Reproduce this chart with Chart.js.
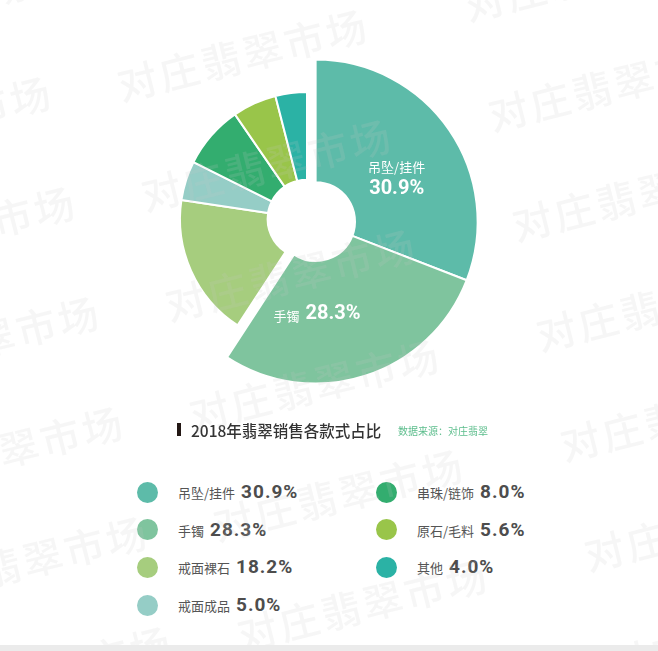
<!DOCTYPE html>
<html>
<head>
<meta charset="utf-8">
<script src="https://cdn.jsdelivr.net/npm/chart.js@4.4.1/dist/chart.umd.min.js"></script>
<style>
    body { margin: 0; background: #fff; }
    #page { position: relative; width: 658px; height: 651px; overflow: hidden; background: #fff; font-family: "Noto Sans CJK SC", sans-serif; }
    #chartBox { position: absolute; left: 0; top: 0; width: 614px; height: 438px; }
    .title-bar { position: absolute; left: 177px; top: 423px; width: 4px; height: 13px; background: #231815; }
    .title { position: absolute; left: 191px; top: 419px; font-size: 15.5px; line-height: 22px; color: #333; font-weight: 500; white-space: nowrap; }
    .source { position: absolute; left: 398px; top: 424px; font-size: 10px; line-height: 14px; color: #5cbd8c; white-space: nowrap; }
    .dot { position: absolute; width: 21px; height: 21px; border-radius: 50%; }
    .item { position: absolute; display: flex; align-items: baseline; line-height: 26px; white-space: nowrap; }
    .item .name { font-size: 13px; color: #555; margin-right: 6px; }
    .item .val { font-family: Roboto, sans-serif; font-weight: 700; font-size: 19px; letter-spacing: 1px; color: #4d4d4d; }
    .wm { position: absolute; font-size: 40px; line-height: 48px; font-weight: 500; letter-spacing: 3px; color: rgba(200, 200, 200, 0.16); white-space: nowrap; transform-origin: 20px 50%; transform: rotate(-14deg); pointer-events: none; }
    .strip { position: absolute; left: 0; top: 645px; width: 658px; height: 6px; background: #ebebeb; }
</style>
</head>
<body>
<div id="page">
    <div id="chartBox"><canvas id="pieChart"></canvas></div>
    <div class="title-bar"></div>
    <div class="title">2018年翡翠销售各款式占比</div>
    <div class="source">数据来源：对庄翡翠</div>
    <div id="legend"></div>
    <div id="marks"></div>
    <div class="strip"></div>
</div>
<script>
// 2018 jade sales by style (%)
const categories = ['吊坠/挂件', '手镯', '戒面裸石', '戒面成品', '串珠/链饰', '原石/毛料', '其他']
const shares = [30.9, 28.3, 18.2, 5.0, 8.0, 5.6, 4.0]
const colors = ['#5dbba9', '#7fc49e', '#a6cd7e', '#95cdc6', '#33ad6f', '#99c54a', '#2bb2a5']

const bigShare = 20      // slices above this are pulled out together and enlarged
const bigScale = 162 / 127
const pullOut = 9
const labelTurn = [6, 17]  // degrees, nudges label along the slice

const explode = {
    id: 'explode',
    afterDatasetUpdate(chart, args) {
        const arcs = args.meta.data
        const big = arcs.filter((a, i) => shares[i] >= bigShare)
        if (!big.length) return
        const start = Math.min(...big.map(a => a.startAngle))
        const end = Math.max(...big.map(a => a.endAngle))
        const mid = (start + end) / 2
        big.forEach(arc => {
            arc.outerRadius = arc.outerRadius * bigScale
            arc.x = arc.x + Math.cos(mid) * pullOut
            arc.y = arc.y + Math.sin(mid) * pullOut
        })
    }
}

const sliceLabels = {
    id: 'sliceLabels',
    afterDatasetsDraw(chart) {
        const c = chart.ctx
        const arcs = chart.getDatasetMeta(0).data
        c.save()
        c.fillStyle = '#fff'
        c.textBaseline = 'middle'
        arcs.forEach((arc, i) => {
            if (shares[i] < bigShare) return
            const mid = (arc.startAngle + arc.endAngle) / 2 + (labelTurn[i] || 0) * Math.PI / 180
            const dist = arc.innerRadius + (arc.outerRadius - arc.innerRadius) * 0.43
            const x = arc.x + Math.cos(mid) * dist
            const y = arc.y + Math.sin(mid) * dist
            const nameFont = '13px "Noto Sans CJK SC"'
            const valFont = 'bold 20px Roboto'
            const val = shares[i].toFixed(1) + '%'
            if (i === 0) {
                c.textAlign = 'center'
                c.font = nameFont
                c.fillText(categories[i], x, y - 11)
                c.font = valFont
                c.fillText(val, x, y + 11)
            } else {
                c.font = nameFont
                const nw = c.measureText(categories[i]).width
                c.font = valFont
                const vw = c.measureText(val).width
                const left = x - (nw + 6 + vw) / 2
                c.textAlign = 'left'
                c.font = nameFont
                c.fillText(categories[i], left, y + 2)
                c.font = valFont
                c.fillText(val, left + nw + 6, y)
            }
        })
        c.restore()
    }
}

const ctx = document.getElementById('pieChart').getContext('2d')
const pieChart = new Chart(ctx, {
    type: 'doughnut',
    data: {
        labels: categories,
        datasets: [{
            data: shares,
            backgroundColor: colors,
            borderColor: '#fff',
            borderWidth: 2
        }]
    },
    options: {
        responsive: true,
        maintainAspectRatio: false,
        animation: false,
        radius: 127,
        cutout: '31%',
        layout: { padding: 0 },
        plugins: {
            legend: { display: false },
            tooltip: { enabled: false }
        }
    },
    plugins: [explode, sliceLabels]
})

// legend, two columns
const legend = document.getElementById('legend')
categories.forEach((name, i) => {
    const col = i < 4 ? 0 : 1
    const row = i < 4 ? i : i - 4
    const cy = 492 + row * 37.7
    const dotX = col === 0 ? 147 : 386
    const textX = col === 0 ? 178 : 417

    const dot = document.createElement('div')
    dot.className = 'dot'
    dot.style.left = (dotX - 10.5) + 'px'
    dot.style.top = (cy - 10.5) + 'px'
    dot.style.background = colors[i]
    legend.appendChild(dot)

    const item = document.createElement('div')
    item.className = 'item'
    item.style.left = textX + 'px'
    item.style.top = (cy - 13) + 'px'
    item.innerHTML = `<span class="name">${name}</span><span class="val">${shares[i].toFixed(1)}%</span>`
    legend.appendChild(item)
})

// watermark tiles
const marks = document.getElementById('marks')
const starts = [[-203, 37], [137, 80], [484, 0]]
starts.forEach(([sx, sy]) => {
    for (let r = 0; r < 7; r++) {
        const el = document.createElement('div')
        el.className = 'wm'
        el.textContent = '对庄翡翠市场'
        el.style.left = (sx + r * 24 - 20) + 'px'
        el.style.top = (sy + r * 110 - 24) + 'px'
        marks.appendChild(el)
    }
})
</script>
</body>
</html>
